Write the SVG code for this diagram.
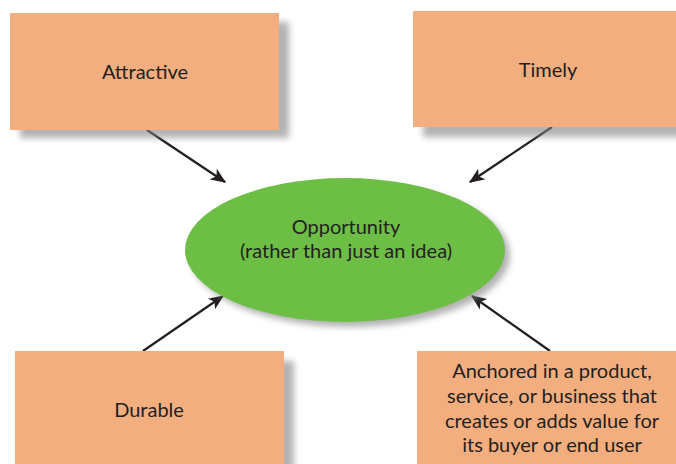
<svg xmlns="http://www.w3.org/2000/svg" width="676" height="464" viewBox="0 0 676 464">
  <defs>
    <filter id="blur" x="-20%" y="-20%" width="140%" height="140%">
      <feGaussianBlur stdDeviation="3"/>
    </filter>
    <marker id="arrow" viewBox="0 0 12 10" refX="11" refY="5" markerWidth="7" markerHeight="6.5" orient="auto" markerUnits="strokeWidth">
      <path d="M0,0 L12,5 L0,10 L3,5 Z" fill="#231f20"/>
    </marker>
  </defs>
  <style>
    .box { fill: #f3ae7f; }
    .shadow { fill: #808080; opacity: 0.6; filter: url(#blur); }
    .label { font-family: "Lato", "Liberation Sans", sans-serif; font-size: 20px; fill: #231f20; text-anchor: middle; }
    .conn { stroke: #231f20; stroke-width: 2.2; fill: none; marker-end: url(#arrow); }
  </style>
  <rect width="676" height="464" fill="#ffffff"/>

  <g id="connectors">
    <line class="conn" x1="147" y1="130" x2="225" y2="182"/>
    <line class="conn" x1="552" y1="127" x2="470" y2="182"/>
    <line class="conn" x1="143" y1="351" x2="223" y2="296"/>
    <line class="conn" x1="550" y1="351" x2="472" y2="296"/>
  </g>

  <g id="opportunity">
    <ellipse cx="350" cy="255" rx="160" ry="72" class="shadow"/>
    <ellipse cx="345" cy="250" rx="160" ry="72" fill="#6dbe45"/>
    <text class="label" x="346" y="234">Opportunity</text>
    <text class="label" x="346" y="258">(rather than just an idea)</text>
  </g>

  <g id="attractive">
    <rect x="20" y="22" width="269" height="116" class="shadow"/>
    <rect x="10" y="13" width="269" height="117" class="box"/>
    <text class="label" x="145" y="79">Attractive</text>
  </g>

  <g id="timely">
    <rect x="423" y="20" width="270" height="117" class="shadow"/>
    <rect x="413" y="11" width="270" height="116" class="box"/>
    <text class="label" x="548" y="77">Timely</text>
  </g>

  <g id="durable">
    <rect x="25" y="361" width="269" height="120" class="shadow"/>
    <rect x="15" y="351" width="269" height="120" class="box"/>
    <text class="label" x="149" y="417">Durable</text>
  </g>

  <g id="anchored">
    <rect x="427" y="361" width="270" height="120" class="shadow"/>
    <rect x="417" y="351" width="270" height="120" class="box"/>
    <text class="label" x="552" y="378">Anchored in a product,</text>
    <text class="label" x="552" y="403">service, or business that</text>
    <text class="label" x="552" y="428">creates or adds value for</text>
    <text class="label" x="552" y="452">its buyer or end user</text>
  </g>
</svg>
